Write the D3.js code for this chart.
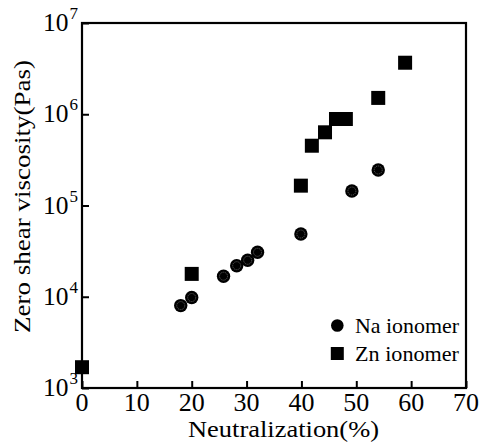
<!DOCTYPE html>
<html><head><meta charset="utf-8">
<script src="https://cdn.jsdelivr.net/npm/d3@7"></script>
<style>
html,body{margin:0;padding:0;background:#fff;}
svg{display:block;}
</style></head>
<body><svg id="chart" width="482" height="443"></svg>
<script>
const naX = [18, 20, 25.8, 28.2, 30.2, 32, 39.9, 49.2, 54];
const naY = [8000, 9800, 16800, 21900, 25100, 30700, 48700, 144000, 245000];
const znX = [0, 20, 39.9, 41.9, 44.3, 46.3, 48.1, 54, 58.9];
const znY = [1690, 17800, 165000, 452000, 634000, 887000, 887000, 1510000, 3670000];
const xTicks = [0, 10, 20, 30, 40, 50, 60, 70];
const yTickExps = [3, 4, 5, 6, 7];
const legendLabels = ["Na ionomer", "Zn ionomer"];
const xTitle = "Neutralization(%)";
const yTitle = "Zero shear viscosity(Pas)";

const FONT = "'Liberation Serif', Tinos, 'Nimbus Roman', 'Nimbus Roman No9 L', 'Times New Roman', Times, 'Noto Serif', FreeSerif, 'DejaVu Serif', serif";
const svg = d3.select("#chart").attr("font-family", FONT);
const L = 82, R = 466, T = 23, B = 388;
const x = d3.scaleLinear().domain([0, 70]).range([L, R]);
const y = d3.scaleLog().domain([1e3, 1e7]).range([B, T]);

// frame
svg.append("rect").attr("x", L).attr("y", T).attr("width", R - L).attr("height", B - T)
  .attr("fill", "none").attr("stroke", "#000").attr("stroke-width", 2.2);

// x axis ticks (inward)
const xa = svg.append("g").attr("transform", `translate(0,${B})`)
  .call(d3.axisBottom(x).tickValues(xTicks).tickSize(-7).tickFormat(""));
xa.select(".domain").remove();
xa.selectAll(".tick line").attr("stroke", "#000").attr("stroke-width", 2);
svg.append("g").selectAll("text").data(xTicks).join("text")
  .attr("font-family", FONT)
  .attr("x", d => x(d)).attr("y", 410.5).attr("text-anchor", "middle")
  .attr("font-size", 25)
  .attr("textLength", d => 13 * String(d).length).attr("lengthAdjust", "spacingAndGlyphs")
  .attr("fill", "#000").text(d => d);

// y axis ticks (inward)
const ya = svg.append("g").attr("transform", `translate(${L},0)`)
  .call(d3.axisLeft(y).tickValues(yTickExps.map(e => Math.pow(10, e))).tickSize(-7).tickFormat(""));
ya.select(".domain").remove();
ya.selectAll(".tick line").attr("stroke", "#000").attr("stroke-width", 2);
const ylG = svg.append("g");
ylG.selectAll("text.base").data(yTickExps).join("text").attr("class", "base")
  .attr("font-family", FONT)
  .attr("x", 43).attr("y", d => y(Math.pow(10, d)) + 8).attr("font-size", 25)
  .attr("textLength", 25.5).attr("lengthAdjust", "spacingAndGlyphs").text("10");
ylG.selectAll("text.exp").data(yTickExps).join("text").attr("class", "exp")
  .attr("font-family", FONT)
  .attr("x", 69.5).attr("y", d => y(Math.pow(10, d)) - 4).attr("font-size", 16)
  .attr("textLength", 8.5).attr("lengthAdjust", "spacingAndGlyphs").text(d => d);

// titles
svg.append("text").attr("font-family", FONT).attr("x", 283.5).attr("y", 437).attr("text-anchor", "middle")
  .attr("font-size", 23.5).attr("textLength", 191).attr("lengthAdjust", "spacingAndGlyphs").text(xTitle);
svg.append("text").attr("font-family", FONT).attr("transform", "translate(30,196.5) rotate(-90)").attr("text-anchor", "middle")
  .attr("font-size", 23).attr("textLength", 273).attr("lengthAdjust", "spacingAndGlyphs").text(yTitle);

// Zn squares
const sq = 14;
svg.append("g").selectAll("rect").data(znX.map((d, i) => [d, znY[i]])).join("rect")
  .attr("x", d => x(d[0]) - sq / 2).attr("y", d => y(d[1]) - sq / 2)
  .attr("width", sq).attr("height", sq).attr("fill", "#000");

// Na circles
const naG = svg.append("g").selectAll("g").data(naX.map((d, i) => [d, naY[i]])).join("g")
  .attr("transform", d => `translate(${x(d[0])},${y(d[1])})`);
naG.append("circle").attr("r", 6.7).attr("fill", "#000");
naG.append("circle").attr("r", 4).attr("fill", "none").attr("stroke", "#777").attr("stroke-width", 0.7)
  .attr("stroke-dasharray", "1.2,0.8");

// legend
svg.append("circle").attr("cx", 337.3).attr("cy", 325.5).attr("r", 6.3).attr("fill", "#000");
svg.append("rect").attr("x", 337.3 - 6.5).attr("y", 353.5 - 6.5).attr("width", 13).attr("height", 13).attr("fill", "#000");
svg.append("g").selectAll("text").data(legendLabels).join("text")
  .attr("font-family", FONT)
  .attr("x", 355).attr("y", (d, i) => 333 + i * 28).attr("font-size", 21)
  .attr("textLength", 104).attr("lengthAdjust", "spacingAndGlyphs").text(d => d);
</script></body></html>
